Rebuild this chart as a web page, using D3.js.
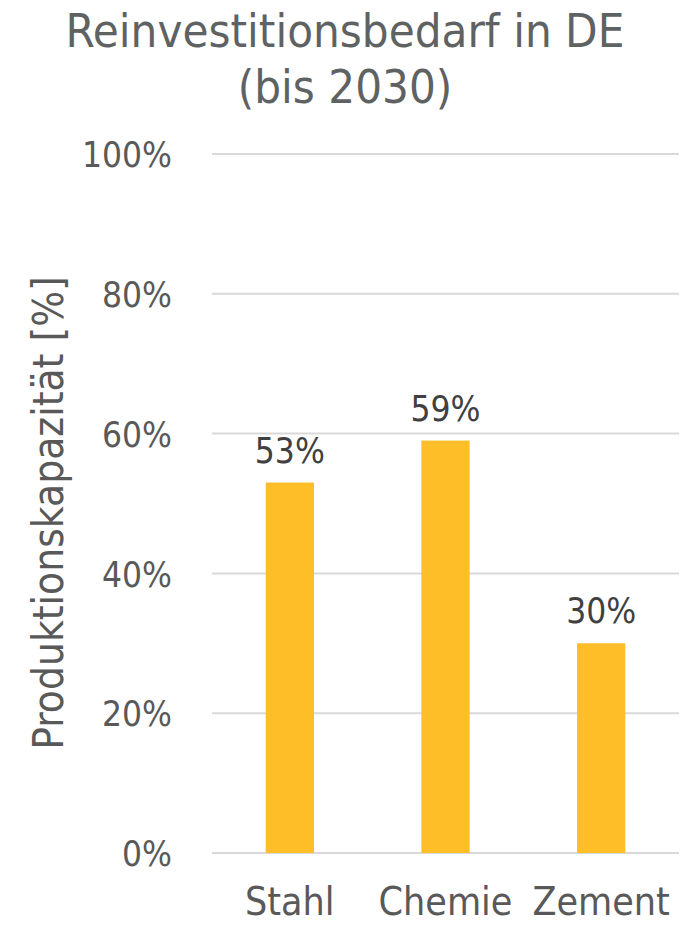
<!DOCTYPE html>
<html>
<head>
<meta charset="utf-8">
<script src="https://cdn.jsdelivr.net/npm/d3@7"></script>
<style>
  body { margin: 0; background: #fff; }
  svg text { font-family: "DejaVu Sans Condensed", "DejaVu Sans", sans-serif; }
</style>
</head>
<body>
<div id="vis"></div>
<script>
const FRAME_WIDTH = 692;
const FRAME_HEIGHT = 926;
const MARGINS = { left: 212, right: 13, top: 154, bottom: 73 };

const categories = ["Stahl", "Chemie", "Zement"];
const values = [53, 59, 30];
const yTicks = [0, 20, 40, 60, 80, 100];
const titleLines = ["Reinvestitionsbedarf in DE", "(bis 2030)"];
const yTitle = "Produktionskapazität  [%]";

const VIS_WIDTH = FRAME_WIDTH - MARGINS.left - MARGINS.right;
const VIS_HEIGHT = FRAME_HEIGHT - MARGINS.top - MARGINS.bottom;

const FRAME = d3.select("#vis")
    .append("svg")
    .attr("width", FRAME_WIDTH)
    .attr("height", FRAME_HEIGHT);

// scales
const X_SCALE = d3.scaleBand()
    .domain(categories)
    .range([0, VIS_WIDTH])
    .paddingInner(0.69)
    .paddingOuter(0.345);

const Y_SCALE = d3.scaleLinear()
    .domain([0, 100])
    .range([VIS_HEIGHT, 0]);

const plot = FRAME.append("g")
    .attr("transform", "translate(" + MARGINS.left + "," + MARGINS.top + ")");

// gridlines
plot.selectAll(".grid")
    .data(yTicks)
    .enter()
    .append("line")
    .attr("x1", 0)
    .attr("x2", VIS_WIDTH)
    .attr("y1", (d) => Y_SCALE(d))
    .attr("y2", (d) => Y_SCALE(d))
    .attr("stroke", "#d9d9d9")
    .attr("stroke-width", 2);

// y tick labels
const yAxis = plot.append("g")
    .call(d3.axisLeft(Y_SCALE).tickValues(yTicks).tickFormat((d) => d + "%").tickSize(0).tickPadding(40));
yAxis.select(".domain").remove();
yAxis.selectAll("text")
    .attr("font-size", "35px")
    .attr("fill", "#595959")
    .attr("dy", "0.36em");

// bars
plot.selectAll(".bar")
    .data(values)
    .enter()
    .append("rect")
    .attr("x", (d, i) => X_SCALE(categories[i]))
    .attr("y", (d) => Y_SCALE(d))
    .attr("width", X_SCALE.bandwidth())
    .attr("height", (d) => VIS_HEIGHT - Y_SCALE(d))
    .attr("fill", "#fdbe27");

// data labels
plot.selectAll(".lbl")
    .data(values)
    .enter()
    .append("text")
    .attr("x", (d, i) => X_SCALE(categories[i]) + X_SCALE.bandwidth() / 2)
    .attr("y", (d) => Y_SCALE(d) - 20)
    .attr("text-anchor", "middle")
    .attr("font-size", "35px")
    .attr("fill", "#404040")
    .text((d) => d + "%");

// x axis labels
const xAxis = plot.append("g")
    .attr("transform", "translate(0," + VIS_HEIGHT + ")")
    .call(d3.axisBottom(X_SCALE).tickSize(0).tickPadding(0));
xAxis.select(".domain").remove();
xAxis.selectAll("text")
    .attr("font-size", "39px")
    .attr("fill", "#595959")
    .attr("dy", 0)
    .attr("y", 62);

// title
FRAME.selectAll(".title")
    .data(titleLines)
    .enter()
    .append("text")
    .attr("x", 345)
    .attr("y", (d, i) => 47 + i * 56)
    .attr("text-anchor", "middle")
    .attr("font-size", "47px")
    .attr("fill", "#5f6262")
    .text((d) => d);

// y axis title
FRAME.append("text")
    .attr("transform", "translate(63,513) rotate(-90)")
    .attr("text-anchor", "middle")
    .attr("font-size", "42px")
    .attr("fill", "#595959")
    .text(yTitle);
</script>
</body>
</html>
